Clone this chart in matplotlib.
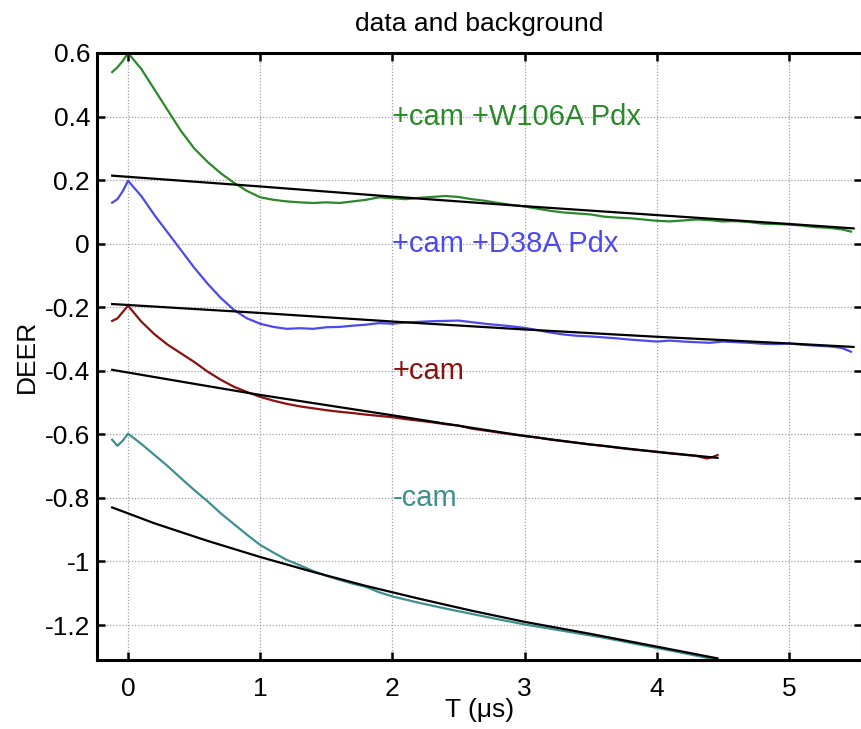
import matplotlib
matplotlib.use("Agg")
import matplotlib.pyplot as plt
from matplotlib.ticker import FuncFormatter

plt.rcParams['font.family'] = ['Liberation Sans', 'DejaVu Sans']

# ---- data ----
t_w106 = [-0.12, -0.08, -0.04, 0.0, 0.1, 0.2, 0.3, 0.4, 0.5, 0.6, 0.7, 0.8, 0.9, 1.0,
          1.1, 1.2, 1.3, 1.4, 1.5, 1.6, 1.7, 1.8, 1.9, 2.0, 2.1, 2.2, 2.3, 2.4, 2.5,
          2.6, 2.7, 2.8, 2.9, 3.0, 3.1, 3.2, 3.3, 3.4, 3.5, 3.6, 3.7, 3.8, 3.9, 4.0,
          4.1, 4.2, 4.3, 4.4, 4.5, 4.6, 4.7, 4.8, 4.9, 5.0, 5.1, 5.2, 5.3, 5.4, 5.47]
y_w106 = [0.54, 0.555, 0.575, 0.60, 0.55, 0.485, 0.42, 0.355, 0.30, 0.258, 0.222, 0.192, 0.166, 0.146,
          0.138, 0.133, 0.130, 0.128, 0.130, 0.128, 0.133, 0.138, 0.146, 0.143, 0.140, 0.144, 0.147, 0.150, 0.147,
          0.140, 0.135, 0.128, 0.122, 0.117, 0.110, 0.103, 0.098, 0.095, 0.092, 0.085, 0.082, 0.080, 0.076, 0.072,
          0.070, 0.073, 0.076, 0.074, 0.070, 0.071, 0.068, 0.063, 0.062, 0.060, 0.057, 0.052, 0.050, 0.045, 0.038]

t_d38 = t_w106
y_d38 = [0.129, 0.14, 0.165, 0.198, 0.15, 0.09, 0.035, -0.02, -0.075, -0.125, -0.17, -0.208, -0.235, -0.252,
         -0.262, -0.268, -0.266, -0.268, -0.263, -0.262, -0.258, -0.255, -0.250, -0.252, -0.248, -0.246, -0.244, -0.243, -0.242,
         -0.247, -0.252, -0.256, -0.260, -0.265, -0.272, -0.280, -0.286, -0.290, -0.292, -0.295, -0.298, -0.302, -0.305, -0.308,
         -0.305, -0.308, -0.310, -0.312, -0.308, -0.310, -0.312, -0.315, -0.316, -0.314, -0.318, -0.321, -0.323, -0.328, -0.340]

t_cam = [-0.12, -0.08, -0.04, 0.0, 0.1, 0.2, 0.3, 0.4, 0.5, 0.6, 0.7, 0.8, 0.9, 1.0,
         1.1, 1.2, 1.3, 1.4, 1.5, 1.6, 1.7, 1.8, 1.9, 2.0, 2.1, 2.2, 2.3, 2.4, 2.5,
         2.6, 2.7, 2.8, 2.9, 3.0, 3.1, 3.2, 3.3, 3.4, 3.5, 3.6, 3.7, 3.8, 3.9, 4.0,
         4.1, 4.2, 4.3, 4.38, 4.42, 4.46]
y_cam = [-0.243, -0.235, -0.215, -0.195, -0.245, -0.285, -0.318, -0.345, -0.372, -0.402, -0.428, -0.450, -0.467, -0.482,
         -0.494, -0.504, -0.512, -0.518, -0.524, -0.529, -0.533, -0.538, -0.542, -0.546, -0.552, -0.557, -0.562, -0.568, -0.572,
         -0.582, -0.588, -0.594, -0.600, -0.605, -0.610, -0.617, -0.622, -0.627, -0.632, -0.636, -0.642, -0.647, -0.651, -0.655,
         -0.660, -0.664, -0.668, -0.676, -0.672, -0.665]

t_nocam = [-0.12, -0.08, -0.04, 0.0, 0.1, 0.2, 0.3, 0.4, 0.5, 0.6, 0.7, 0.8, 0.9, 1.0,
           1.1, 1.2, 1.3, 1.4, 1.5, 1.6, 1.7, 1.8, 1.9, 2.0, 2.2, 2.4, 2.6, 2.8, 3.0,
           3.2, 3.4, 3.6, 3.8, 4.0, 4.2, 4.46]
y_nocam = [-0.617, -0.636, -0.62, -0.598, -0.63, -0.665, -0.70, -0.738, -0.775, -0.81, -0.848, -0.882, -0.916, -0.948,
           -0.972, -0.995, -1.012, -1.030, -1.045, -1.058, -1.070, -1.080, -1.097, -1.110, -1.130, -1.148, -1.165, -1.182, -1.198,
           -1.212, -1.226, -1.240, -1.256, -1.272, -1.288, -1.310]

# background fits
tb_w106 = [-0.12, 1.0, 2.0, 3.0, 4.0, 5.0, 5.49]
yb_w106 = [0.214, 0.18, 0.148, 0.118, 0.090, 0.062, 0.048]
tb_d38 = [-0.12, 1.0, 2.0, 3.0, 4.0, 5.0, 5.49]
yb_d38 = [-0.19, -0.218, -0.245, -0.270, -0.293, -0.314, -0.325]
tb_cam = [-0.12, 0.5, 1.0, 1.5, 2.0, 2.5, 3.0, 3.5, 4.0, 4.46]
yb_cam = [-0.397, -0.441, -0.476, -0.508, -0.540, -0.573, -0.605, -0.632, -0.655, -0.674]
tb_nocam = [-0.12, 0.2, 0.6, 1.0, 1.4, 1.8, 2.2, 2.6, 3.0, 3.5, 4.0, 4.46]
yb_nocam = [-0.83, -0.88, -0.935, -0.986, -1.033, -1.077, -1.117, -1.155, -1.19, -1.228, -1.268, -1.305]

labels = ['+cam +W106A Pdx', '+cam +D38A Pdx', '+cam', '-cam']
label_y = [0.4, 0.0, -0.4, -0.8]
colors = ['#2a8a2a', '#4a4af0', '#8b1010', '#3e8f8f']

xticks = [0, 1, 2, 3, 4, 5]
yticks = [0.6, 0.4, 0.2, 0, -0.2, -0.4, -0.6, -0.8, -1, -1.2]

# ---- figure ----
fig = plt.figure(figsize=(8.62, 7.29), dpi=100)
ax = fig.add_axes([0.1125, 0.0947, 0.887, 0.8326])

data = [(t_w106, y_w106), (t_d38, y_d38), (t_cam, y_cam), (t_nocam, y_nocam)]
fits = [(tb_w106, yb_w106), (tb_d38, yb_d38), (tb_cam, yb_cam), (tb_nocam, yb_nocam)]
for (t, y), c in zip(data, colors):
    ax.plot(t, y, color=c, lw=1.6)
for (t, y) in fits:
    ax.plot(t, y, color='black', lw=1.6)

for lab, ly, c in zip(labels, label_y, colors):
    ax.text(2.0, ly, lab, color=c, fontsize=21, va='center', ha='left')

ax.set_xlim(-0.235, 5.55)
ax.set_ylim(-1.31, 0.6)
ax.set_xticks(xticks)
ax.set_yticks(yticks)
ax.yaxis.set_major_formatter(FuncFormatter(lambda v, p: '{:g}'.format(round(v, 2))))
ax.xaxis.set_major_formatter(FuncFormatter(lambda v, p: '{:g}'.format(v)))
ax.tick_params(direction='in', length=6, width=1.8, labelsize=19, top=True, right=True)
ax.tick_params(axis='x', pad=12)
ax.tick_params(axis='y', pad=5)
for s in ax.spines.values():
    s.set_linewidth(2.2)
ax.grid(True, color='#a0a0a0', linestyle=(0, (1, 1.5)), linewidth=0.9)

ax.set_title('data and background', fontsize=19, pad=16)
ax.set_xlabel('T (\u03bcs)', fontsize=19, labelpad=-2)
ax.set_ylabel('DEER', fontsize=19, labelpad=4)

fig.savefig('out.png', dpi=100)
